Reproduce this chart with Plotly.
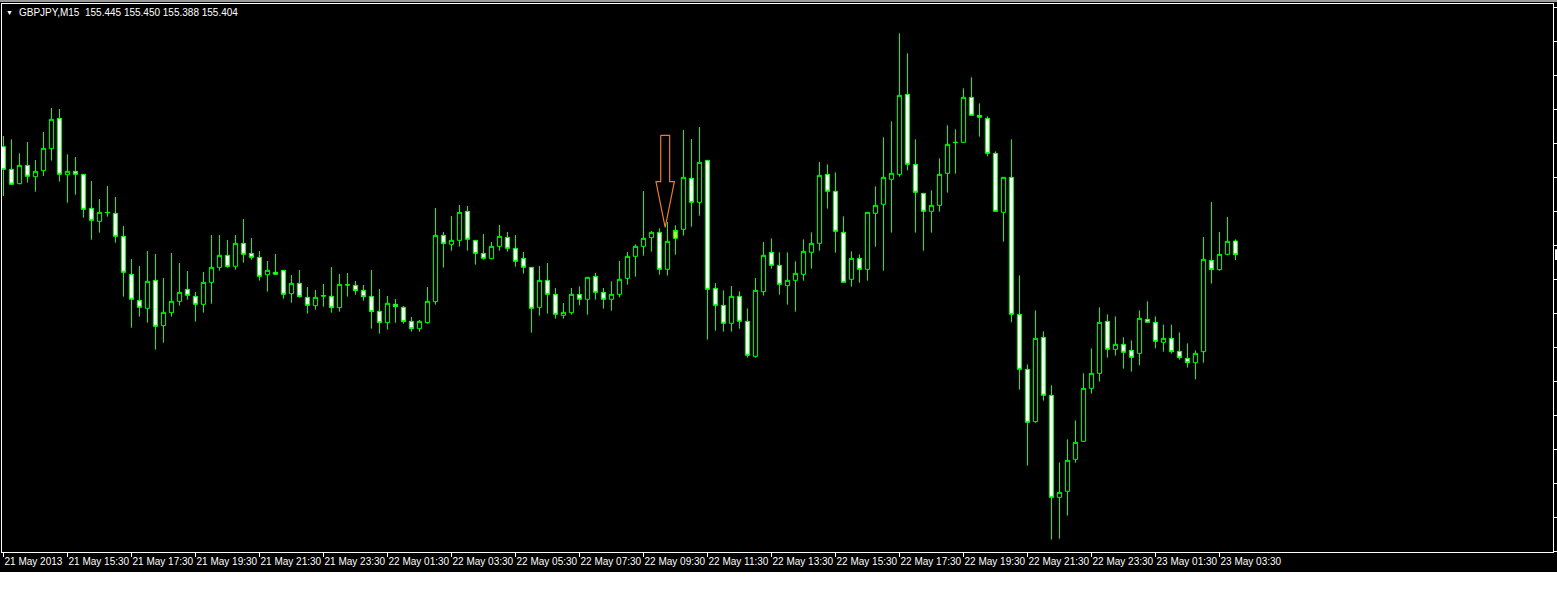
import plotly.graph_objects as go

symbol_title = "GBPJPY,M15  155.445 155.450 155.388 155.404"

time_labels = ["21 May 2013", "21 May 15:30", "21 May 17:30", "21 May 19:30", "21 May 21:30",
               "21 May 23:30", "22 May 01:30", "22 May 03:30", "22 May 05:30", "22 May 07:30",
               "22 May 09:30", "22 May 11:30", "22 May 13:30", "22 May 15:30", "22 May 17:30",
               "22 May 19:30", "22 May 21:30", "22 May 23:30", "23 May 01:30", "23 May 03:30"]

opens = [155.728, 155.660, 155.617, 155.672, 155.638, 155.656, 155.722, 155.813, 155.644, 155.654,
         155.645, 155.543, 155.504, 155.531, 155.528, 155.459, 155.345, 155.267, 155.243, 155.327,
         155.191, 155.230, 155.264, 155.300, 155.279, 155.255, 155.321, 155.366, 155.402, 155.369,
         155.438, 155.408, 155.396, 155.344, 155.351, 155.357, 155.287, 155.318, 155.276, 155.251,
         155.281, 155.279, 155.245, 155.314, 155.312, 155.297, 155.279, 155.234, 155.200, 155.255,
         155.246, 155.204, 155.182, 155.200, 155.263, 155.462, 155.435, 155.447, 155.534, 155.447,
         155.408, 155.392, 155.429, 155.456, 155.423, 155.393, 155.366, 155.246, 155.327, 155.285,
         155.222, 155.230, 155.285, 155.270, 155.339, 155.291, 155.270, 155.285, 155.333, 155.399,
         155.429, 155.455, 155.471, 155.360, 155.453, 155.480, 155.633, 155.561, 155.687, 155.303,
         155.252, 155.198, 155.279, 155.204, 155.099, 155.293, 155.411, 155.372, 155.311, 155.327,
         155.345, 155.411, 155.438, 155.645, 155.594, 155.471, 155.330, 155.393, 155.360, 155.528,
         155.555, 155.630, 155.645, 155.885, 155.675, 155.588, 155.534, 155.552, 155.648, 155.740,
         155.741, 155.876, 155.822, 155.813, 155.708, 155.531, 155.636, 155.225, 155.060, 154.903,
         155.156, 154.982, 154.676, 154.694, 154.790, 154.844, 155.003, 155.048, 155.204, 155.120,
         155.135, 155.117, 155.108, 155.210, 155.201, 155.141, 155.153, 155.114, 155.093, 155.080,
         155.113, 155.387, 155.359, 155.405, 155.445]

highs = [155.760, 155.750, 155.708, 155.742, 155.688, 155.772, 155.844, 155.841, 155.705, 155.697,
         155.645, 155.625, 155.571, 155.610, 155.577, 155.490, 155.391, 155.370, 155.415, 155.406,
         155.334, 155.409, 155.379, 155.355, 155.292, 155.352, 155.463, 155.463, 155.448, 155.463,
         155.511, 155.454, 155.415, 155.385, 155.406, 155.357, 155.343, 155.358, 155.307, 155.298,
         155.316, 155.367, 155.346, 155.349, 155.325, 155.313, 155.358, 155.301, 155.280, 155.271,
         155.250, 155.217, 155.208, 155.307, 155.544, 155.472, 155.520, 155.553, 155.550, 155.447,
         155.466, 155.442, 155.493, 155.472, 155.463, 155.412, 155.366, 155.370, 155.379, 155.304,
         155.259, 155.304, 155.309, 155.336, 155.349, 155.304, 155.324, 155.385, 155.412, 155.435,
         155.595, 155.475, 155.483, 155.502, 155.492, 155.778, 155.751, 155.787, 155.687, 155.319,
         155.297, 155.310, 155.294, 155.243, 155.334, 155.442, 155.453, 155.411, 155.411, 155.384,
         155.450, 155.471, 155.682, 155.675, 155.651, 155.519, 155.414, 155.405, 155.531, 155.609,
         155.756, 155.804, 156.068, 156.008, 155.750, 155.588, 155.597, 155.693, 155.792, 155.780,
         155.903, 155.936, 155.858, 155.819, 155.714, 155.636, 155.750, 155.342, 155.075, 155.237,
         155.174, 155.012, 154.781, 154.850, 154.907, 155.048, 155.123, 155.246, 155.225, 155.219,
         155.156, 155.147, 155.237, 155.264, 155.219, 155.194, 155.194, 155.171, 155.138, 155.117,
         155.457, 155.562, 155.472, 155.517, 155.450]

lows = [155.580, 155.613, 155.615, 155.620, 155.593, 155.640, 155.686, 155.623, 155.560, 155.584,
        155.515, 155.449, 155.470, 155.518, 155.440, 155.278, 155.185, 155.218, 155.200, 155.119,
        155.140, 155.218, 155.251, 155.269, 155.203, 155.230, 155.257, 155.356, 155.365, 155.359,
        155.380, 155.389, 155.326, 155.293, 155.344, 155.272, 155.260, 155.275, 155.227, 155.239,
        155.248, 155.230, 155.233, 155.278, 155.284, 155.266, 155.182, 155.167, 155.179, 155.200,
        155.197, 155.173, 155.173, 155.197, 155.254, 155.365, 155.416, 155.428, 155.416, 155.374,
        155.389, 155.390, 155.416, 155.413, 155.368, 155.347, 155.170, 155.221, 155.227, 155.212,
        155.212, 155.224, 155.252, 155.224, 155.269, 155.242, 155.236, 155.276, 155.314, 155.338,
        155.401, 155.413, 155.344, 155.341, 155.404, 155.461, 155.488, 155.521, 155.149, 155.176,
        155.173, 155.173, 155.182, 155.095, 155.095, 155.281, 155.362, 155.284, 155.254, 155.233,
        155.326, 155.362, 155.416, 155.542, 155.410, 155.320, 155.308, 155.320, 155.326, 155.428,
        155.356, 155.470, 155.638, 155.657, 155.470, 155.416, 155.470, 155.533, 155.590, 155.647,
        155.739, 155.822, 155.758, 155.699, 155.533, 155.443, 155.201, 154.999, 154.771, 154.900,
        154.966, 154.549, 154.552, 154.621, 154.780, 154.843, 154.987, 155.023, 155.095, 155.101,
        155.062, 155.053, 155.072, 155.200, 155.123, 155.113, 155.107, 155.089, 155.065, 155.030,
        155.080, 155.317, 155.356, 155.402, 155.388]

closes = [155.660, 155.615, 155.672, 155.639, 155.654, 155.723, 155.810, 155.645, 155.654, 155.645,
          155.540, 155.507, 155.531, 155.530, 155.459, 155.351, 155.270, 155.246, 155.324, 155.189,
          155.231, 155.264, 155.291, 155.282, 155.255, 155.321, 155.366, 155.402, 155.368, 155.438,
          155.405, 155.396, 155.339, 155.357, 155.345, 155.285, 155.318, 155.278, 155.252, 155.276,
          155.280, 155.245, 155.315, 155.313, 155.296, 155.278, 155.233, 155.200, 155.258, 155.248,
          155.203, 155.182, 155.204, 155.264, 155.462, 155.437, 155.447, 155.531, 155.450, 155.408,
          155.393, 155.429, 155.459, 155.423, 155.384, 155.366, 155.243, 155.327, 155.285, 155.225,
          155.231, 155.285, 155.270, 155.336, 155.291, 155.270, 155.285, 155.330, 155.399, 155.429,
          155.453, 155.471, 155.360, 155.444, 155.477, 155.636, 155.561, 155.681, 155.300, 155.252,
          155.198, 155.279, 155.204, 155.102, 155.297, 155.402, 155.372, 155.315, 155.327, 155.348,
          155.414, 155.438, 155.642, 155.594, 155.474, 155.321, 155.393, 155.360, 155.531, 155.552,
          155.636, 155.648, 155.882, 155.675, 155.591, 155.534, 155.552, 155.645, 155.735, 155.741,
          155.876, 155.822, 155.816, 155.708, 155.534, 155.636, 155.225, 155.060, 154.901, 155.153,
          154.982, 154.676, 154.691, 154.787, 154.841, 155.003, 155.048, 155.201, 155.120, 155.135,
          155.111, 155.096, 155.213, 155.201, 155.144, 155.153, 155.113, 155.095, 155.080, 155.108,
          155.390, 155.359, 155.405, 155.444, 155.404]

selected_bar = 84          # candle drawn with highlighted fill
arrow_bar = 82.71          # bar position of the orange down arrow
arrow_tip_price = 155.486
arrow_tail_price = 155.762
last_price = 155.404

# ---------------------------------------------------------------------------
n = len(opens)
bars = list(range(n))
label_bars = bars[::8]

GREEN = "#00FF00"
main_idx = [i for i in bars if i != selected_bar]

fig = go.Figure()
fig.add_trace(go.Candlestick(
    x=[bars[i] for i in main_idx],
    open=[opens[i] for i in main_idx], high=[highs[i] for i in main_idx],
    low=[lows[i] for i in main_idx], close=[closes[i] for i in main_idx],
    increasing=dict(line=dict(color=GREEN, width=1), fillcolor="#000000"),
    decreasing=dict(line=dict(color=GREEN, width=1), fillcolor="#FFFFFF"),
    whiskerwidth=0, showlegend=False, hoverinfo="skip"))
fig.add_trace(go.Candlestick(
    x=[selected_bar], open=[opens[selected_bar]], high=[highs[selected_bar]],
    low=[lows[selected_bar]], close=[closes[selected_bar]],
    increasing=dict(line=dict(color=GREEN, width=1), fillcolor="#B8F03A"),
    decreasing=dict(line=dict(color=GREEN, width=1), fillcolor="#B8F03A"),
    whiskerwidth=0, showlegend=False, hoverinfo="skip"))

# orange outlined down arrow (object anchored at bar / price)
shaft_hw = 0.56
head_hw = 1.15
head_len = 0.137
ax = [arrow_bar - shaft_hw, arrow_bar + shaft_hw, arrow_bar + shaft_hw, arrow_bar + head_hw,
      arrow_bar, arrow_bar - head_hw, arrow_bar - shaft_hw, arrow_bar - shaft_hw]
ay = [arrow_tail_price, arrow_tail_price, arrow_tip_price + head_len, arrow_tip_price + head_len,
      arrow_tip_price, arrow_tip_price + head_len, arrow_tip_price + head_len, arrow_tail_price]
fig.add_trace(go.Scatter(x=ax, y=ay, mode="lines", line=dict(color="#F07830", width=1.2),
                         showlegend=False, hoverinfo="skip"))

W, H = 1557, 600
ML, MR, MT, MB = 2, 4, 4, 48
PW, PH = W - ML - MR, H - MT - MB
BAR_PX = 8.0
FIRST_BAR_PX = 3.5
PRICE_PER_PX = 0.003
x0 = (ML - FIRST_BAR_PX) / BAR_PX
x1 = x0 + PW / BAR_PX
y_top = 156.156
y_bot = y_top - PH * PRICE_PER_PX


def px_x(p):
    return (p - ML) / PW


def px_y(p):
    return 1 - (p - MT) / PH


fig.update_layout(
    width=W, height=H,
    margin=dict(l=ML, r=MR, t=MT, b=MB, pad=0, autoexpand=False),
    paper_bgcolor="#000000", plot_bgcolor="#000000",
    font=dict(family="Liberation Sans, Arial, sans-serif", size=10, color="#FFFFFF"),
    boxgap=0.25,
    xaxis=dict(range=[x0, x1], showgrid=False, zeroline=False, rangeslider=dict(visible=False),
               showline=True, linecolor="#FFFFFF", linewidth=1, mirror=True,
               tickmode="array", tickvals=label_bars, ticktext=time_labels, tickangle=0,
               ticks="outside", ticklen=4, tickcolor="#FFFFFF", tickwidth=1,
               ticklabelposition="outside right", automargin=False,
               tickfont=dict(family="Liberation Sans, Arial, sans-serif", size=10, color="#FFFFFF")),
    yaxis=dict(range=[y_bot, y_top], showgrid=False, zeroline=False, side="right",
               showline=True, linecolor="#FFFFFF", linewidth=1, mirror=True,
               ticks="outside", ticklen=4, tickcolor="#FFFFFF", tickwidth=1, automargin=False,
               tick0=156.147, dtick=0.102, showticklabels=False),
    shapes=[
        dict(type="rect", xref="paper", yref="paper", x0=-0.01, x1=1.01,
             y0=px_y(H + 20), y1=px_y(572), fillcolor="#FFFFFF", line=dict(width=0), layer="above"),
        dict(type="rect", xref="paper", yref="paper", x0=-0.01, x1=1.01,
             y0=px_y(2), y1=px_y(-2), fillcolor="#9A9A9A", line=dict(width=0), layer="above"),
        dict(type="rect", xref="paper", yref="y", x0=px_x(W - MR + 2), x1=px_x(W + 10),
             y0=last_price - 0.016, y1=last_price + 0.016, fillcolor="#FFFFFF",
             line=dict(width=0), layer="above"),
    ],
    annotations=[
        dict(text="▼", xref="paper", yref="paper", x=px_x(9), y=px_y(12.5), xanchor="center",
             yanchor="middle", showarrow=False, font=dict(size=7, color="#FFFFFF")),
        dict(text=symbol_title, xref="paper", yref="paper", x=px_x(17), y=px_y(12.5),
             xanchor="left", yanchor="middle", showarrow=False,
             font=dict(family="Liberation Sans, Arial, sans-serif", size=10, color="#FFFFFF")),
    ],
)

fig.write_html("out.html", config={"displayModeBar": False},
               post_script="document.body.style.margin='0';document.body.style.overflow='hidden';")
